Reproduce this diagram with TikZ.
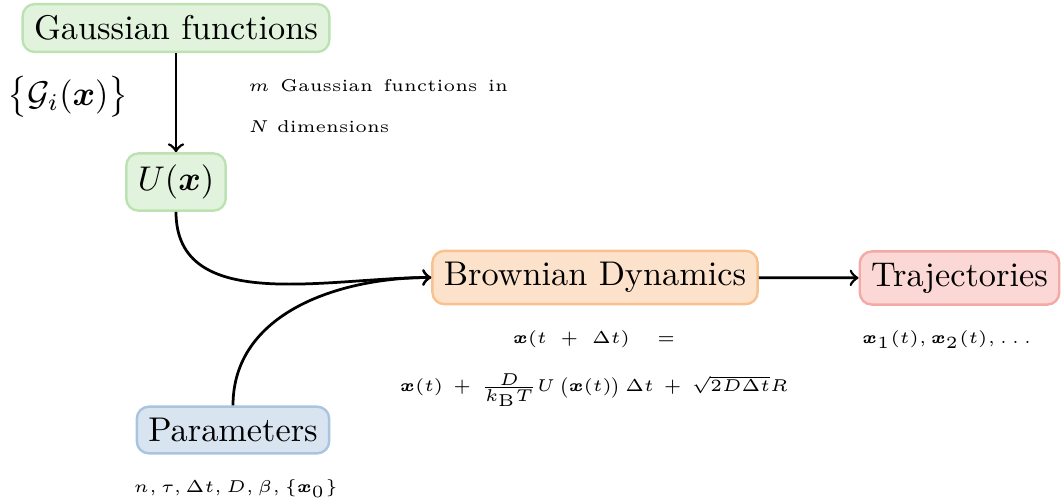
\documentclass[tikz,border=0pt]{standalone}
\usepackage{amsmath}
\usepackage{bm}
\definecolor{gfill}{HTML}{E2F3DD}
\definecolor{gline}{HTML}{BCE2B2}
\definecolor{ofill}{HTML}{FDE2CB}
\definecolor{oline}{HTML}{F9C18E}
\definecolor{rfill}{HTML}{FBD7D5}
\definecolor{rline}{HTML}{F3A9A6}
\definecolor{bfill}{HTML}{D8E4F0}
\definecolor{bline}{HTML}{A9C4DE}
\tikzset{
  box/.style={rounded corners=3.5pt, line width=0.7pt},
  lbl/.style={font=\tiny, inner sep=0pt},
  conn/.style={->, thick}
}
\begin{document}
\begin{tikzpicture}[x=0.2915pt,y=-0.2915pt]
\useasboundingbox (0,0) rectangle (1061,502);
\node[box, draw=gline, fill=gfill] (gauss) at (176,28) {Gaussian functions};
\node[box, draw=gline, fill=gfill] (U) at (176,182) {$U(\bm{x})$};
\node[box, draw=oline, fill=ofill] (BD) at (595,277.5) {Brownian Dynamics};
\node[box, draw=rline, fill=rfill] (traj) at (959.5,278) {Trajectories};
\node[box, draw=bline, fill=bfill] (par) at (233,430) {Parameters};

\node[inner sep=0pt] (glab) at (68,97) {$\big\{\mathcal{G}_i(\bm{x})\big\}$};
\node[lbl, align=left, anchor=north west] (mlab) at (248,79) {\makebox[75.6pt][s]{$m$ Gaussian functions in}\\[6pt] $N$ dimensions};
\node[lbl, align=center, anchor=north] (eq) at (594,330)
  {\makebox[47.2pt][s]{$\bm{x}(t+\Delta t) =$}\\[6.5pt]
   \makebox[113pt][s]{$\bm{x}(t) + \frac{D}{k_{\mathrm{B}}T}U\,\bigl(\bm{x}(t)\bigr)\,\Delta t + \sqrt{2D\Delta t}R$}};
\node[lbl, anchor=base] (tlab) at (947,343) {$\bm{x}_1(t), \bm{x}_2(t), \ldots$};
\node[lbl, anchor=base] (plab) at (236,492) {$n, \tau, \Delta t, D, \beta, \{\bm{x}_0\}$};

\draw[conn] (gauss) -- (U);
\draw[conn] (U.south) to[out=-90,in=180] (BD.west);
\draw[conn] (par.north) to[out=90,in=180] (BD.west);
\draw[conn] (BD) -- (traj);
\end{tikzpicture}
\end{document}
